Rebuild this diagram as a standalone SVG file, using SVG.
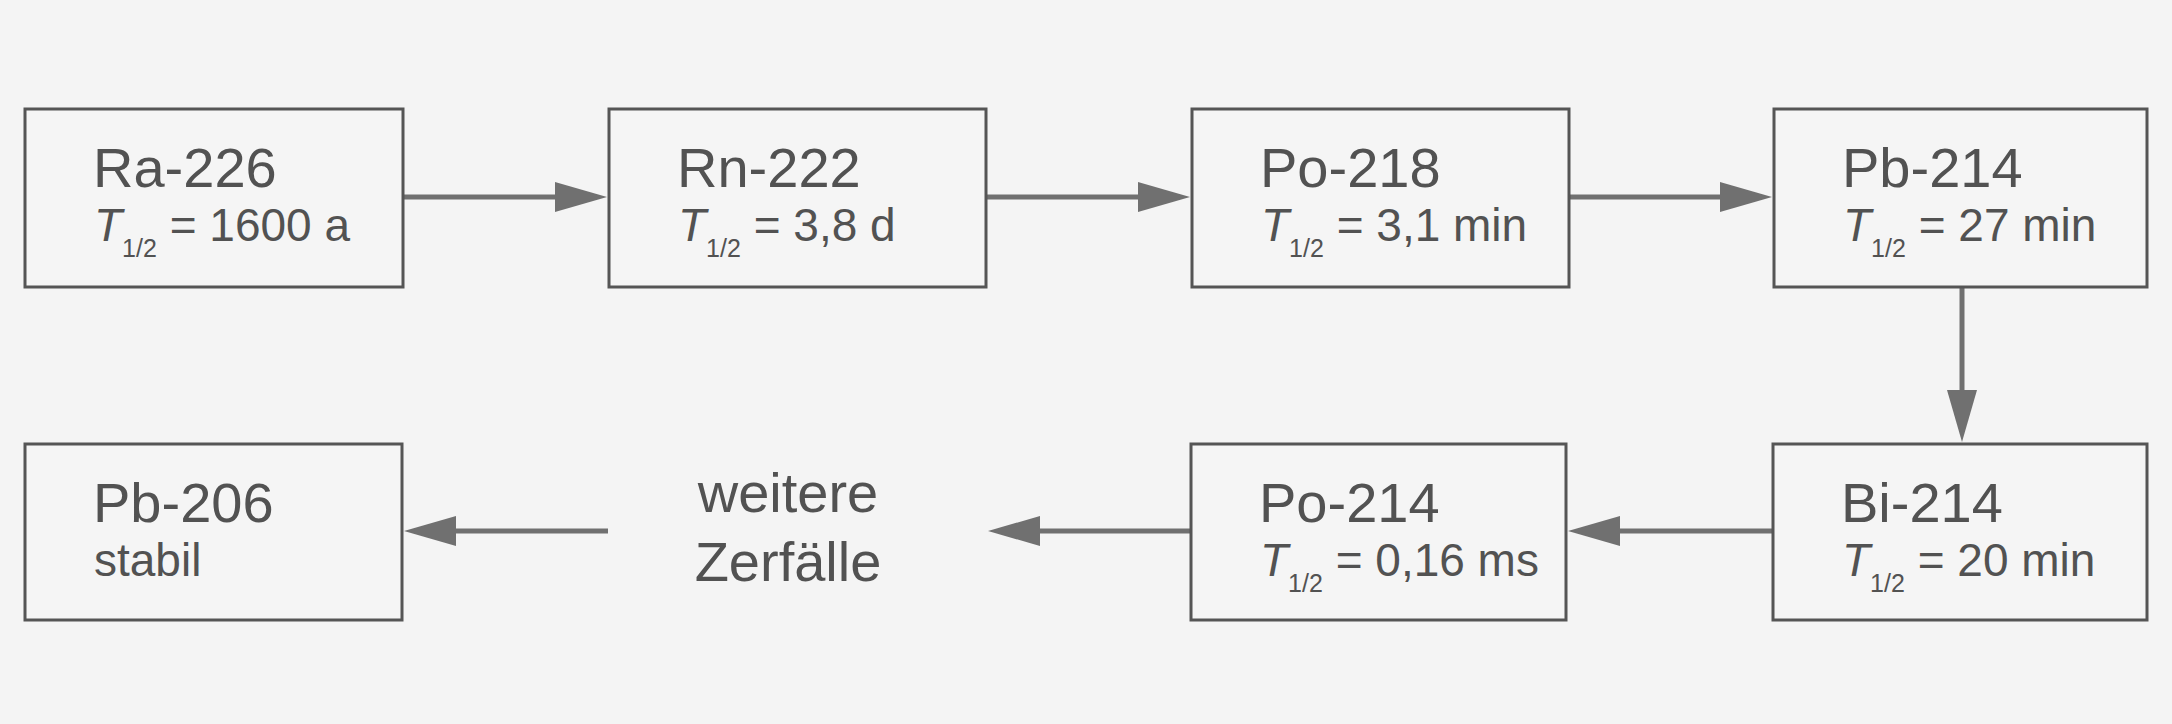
<svg xmlns="http://www.w3.org/2000/svg" width="2172" height="724" viewBox="0 0 2172 724">
<defs>
<style>
.box{fill:#f5f5f5;stroke:#555555;stroke-width:3}
.t1{font-family:"Liberation Sans",Arial,sans-serif;font-size:56px;fill:#525252}
.t2{font-family:"Liberation Sans",Arial,sans-serif;font-size:46px;fill:#525252}
.it{font-style:italic}
.sub{font-size:25px}
.conn{stroke:#707070;stroke-width:5;fill:none}
</style>
<marker id="ah" viewBox="0 0 52 30" markerWidth="52" markerHeight="30" refX="42" refY="15" orient="auto" markerUnits="userSpaceOnUse">
<path d="M0,0 L52,15 L0,30 z" fill="#707070"/>
</marker>
</defs>
<rect width="2172" height="724" fill="#f4f4f4"/>
<g id="connectors">
<line class="conn" x1="403" y1="197" x2="597" y2="197" marker-end="url(#ah)"/>
<line class="conn" x1="986" y1="197" x2="1180" y2="197" marker-end="url(#ah)"/>
<line class="conn" x1="1569" y1="197" x2="1762" y2="197" marker-end="url(#ah)"/>
<line class="conn" x1="1962" y1="287" x2="1962" y2="432" marker-end="url(#ah)"/>
<line class="conn" x1="1773" y1="531" x2="1578" y2="531" marker-end="url(#ah)"/>
<line class="conn" x1="1191" y1="531" x2="998" y2="531" marker-end="url(#ah)"/>
<line class="conn" x1="608" y1="531" x2="414" y2="531" marker-end="url(#ah)"/>
</g>
<g id="ra226">
<rect class="box" x="25" y="109" width="378" height="178"/>
<text class="t1" x="93" y="187">Ra-226</text>
<text class="t2" x="94" y="241"><tspan class="it">T</tspan><tspan class="sub" dy="16">1/2</tspan><tspan dy="-16"> = 1600 a</tspan></text>
</g>
<g id="rn222">
<rect class="box" x="609" y="109" width="377" height="178"/>
<text class="t1" x="677" y="187">Rn-222</text>
<text class="t2" x="678" y="241"><tspan class="it">T</tspan><tspan class="sub" dy="16">1/2</tspan><tspan dy="-16"> = 3,8 d</tspan></text>
</g>
<g id="po218">
<rect class="box" x="1192" y="109" width="377" height="178"/>
<text class="t1" x="1260" y="187">Po-218</text>
<text class="t2" x="1261" y="241"><tspan class="it">T</tspan><tspan class="sub" dy="16">1/2</tspan><tspan dy="-16"> = 3,1 min</tspan></text>
</g>
<g id="pb214">
<rect class="box" x="1774" y="109" width="373" height="178"/>
<text class="t1" x="1842" y="187">Pb-214</text>
<text class="t2" x="1843" y="241"><tspan class="it">T</tspan><tspan class="sub" dy="16">1/2</tspan><tspan dy="-16"> = 27 min</tspan></text>
</g>
<g id="bi214">
<rect class="box" x="1773" y="444" width="374" height="176"/>
<text class="t1" x="1841" y="522">Bi-214</text>
<text class="t2" x="1842" y="576"><tspan class="it">T</tspan><tspan class="sub" dy="16">1/2</tspan><tspan dy="-16"> = 20 min</tspan></text>
</g>
<g id="po214">
<rect class="box" x="1191" y="444" width="375" height="176"/>
<text class="t1" x="1259" y="522">Po-214</text>
<text class="t2" x="1260" y="576"><tspan class="it">T</tspan><tspan class="sub" dy="16">1/2</tspan><tspan dy="-16"> = 0,16 ms</tspan></text>
</g>
<g id="weitere">
<text class="t1" x="788" y="512" text-anchor="middle" font-size="55">weitere</text>
<text class="t1" x="788" y="581" text-anchor="middle" font-size="55">Zerfälle</text>
</g>
<g id="pb206">
<rect class="box" x="25" y="444" width="377" height="176"/>
<text class="t1" x="93" y="522">Pb-206</text>
<text class="t2" x="94" y="576">stabil</text>
</g>
</svg>
